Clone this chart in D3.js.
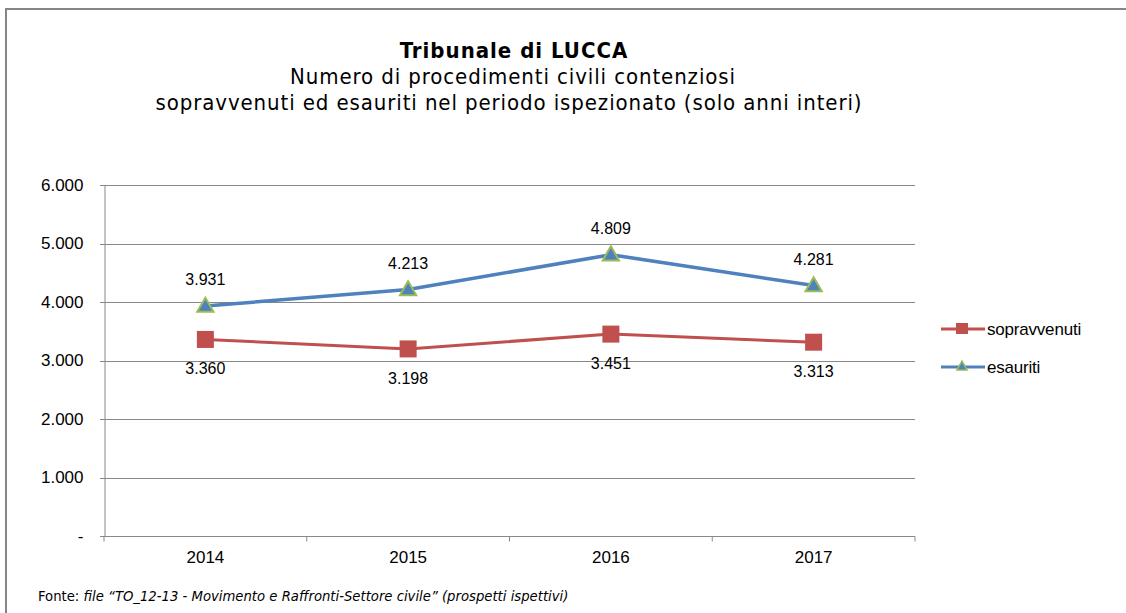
<!DOCTYPE html>
<html>
<head>
<meta charset="utf-8">
<script src="https://cdn.jsdelivr.net/npm/d3@7"></script>
<style>
  body { margin: 0; background: #fff; }
  svg { display: block; }
</style>
</head>
<body>
<svg id="chart"></svg>
<script>
const years = ["2014", "2015", "2016", "2017"];
const sopravvenuti = [3360, 3198, 3451, 3313];
const esauriti = [3931, 4213, 4809, 4281];
const yTicks = [0, 1000, 2000, 3000, 4000, 5000, 6000];

const width = 1126, height = 613;
const margin = { top: 185, right: 211, bottom: 77, left: 104 };

const svg = d3.select("#chart").attr("width", width).attr("height", height);

// cornice
svg.append("rect")
  .attr("x", 6).attr("y", 9)
  .attr("width", width + 10).attr("height", height + 10)
  .attr("fill", "none").attr("stroke", "#868686").attr("stroke-width", 2);

// titoli
const titleFont = "DejaVu Sans Condensed, DejaVu Sans, sans-serif";
svg.append("text")
  .attr("x", 514).attr("y", 58)
  .attr("text-anchor", "middle").attr("font-family", titleFont)
  .attr("font-weight", "bold").attr("font-size", 22).attr("letter-spacing", 1)
  .text("Tribunale di LUCCA");
svg.append("text")
  .attr("x", 513).attr("y", 84)
  .attr("text-anchor", "middle").attr("font-family", titleFont)
  .attr("font-size", 22).attr("letter-spacing", 0.9)
  .text("Numero di procedimenti civili contenziosi");
svg.append("text")
  .attr("x", 509).attr("y", 110)
  .attr("text-anchor", "middle").attr("font-family", titleFont)
  .attr("font-size", 22).attr("letter-spacing", 0.9)
  .text("sopravvenuti ed esauriti nel periodo ispezionato (solo anni interi)");

const x = d3.scaleBand()
  .domain(years)
  .range([margin.left, width - margin.right]);

const y = d3.scaleLinear()
  .domain([0, 6000])
  .range([height - margin.bottom, margin.top]);

const fmt = v => v === 0 ? "-" : d3.format(",")(v).replace(/,/g, ".");
const sans = "Liberation Sans, Arial, sans-serif";

// griglia
svg.append("g")
  .selectAll("line")
  .data(yTicks)
  .join("line")
  .attr("x1", margin.left - 4)
  .attr("x2", width - margin.right)
  .attr("y1", d => Math.round(y(d)) + 0.5)
  .attr("y2", d => Math.round(y(d)) + 0.5)
  .attr("stroke", "#888");

// asse y
svg.append("g")
  .attr("transform", `translate(${margin.left + 0.5},0)`)
  .call(d3.axisLeft(y).tickValues(yTicks).tickSize(0).tickPadding(21).tickFormat(fmt))
  .call(g => g.select(".domain").attr("stroke", "#888"))
  .call(g => g.selectAll(".tick text")
    .attr("font-family", sans)
    .attr("font-size", 17).attr("fill", "#000"));

// asse x
const xAxisY = Math.round(y(0)) + 0.5;
svg.append("g")
  .attr("transform", `translate(0,${xAxisY})`)
  .call(d3.axisBottom(x).tickSize(0).tickPadding(14))
  .call(g => g.select(".domain").remove())
  .call(g => g.selectAll(".tick text")
    .attr("font-family", sans)
    .attr("font-size", 17).attr("fill", "#000"));

svg.append("g")
  .selectAll("line")
  .data(years.concat(["end"]))
  .join("line")
  .attr("x1", d => d === "end" ? x.range()[1] : x(d))
  .attr("x2", d => d === "end" ? x.range()[1] : x(d))
  .attr("y1", xAxisY)
  .attr("y2", xAxisY + 5)
  .attr("stroke", "#888");

const cx = d => x(d) + x.bandwidth() / 2;

const line = d3.line()
  .x((d, i) => cx(years[i]))
  .y(d => y(d));

const red = "#C0504D", blue = "#4F81BD", green = "#9BBB59";

svg.append("path").datum(sopravvenuti)
  .attr("d", line).attr("fill", "none")
  .attr("stroke", red).attr("stroke-width", 3).attr("stroke-linejoin", "round");

svg.append("path").datum(esauriti)
  .attr("d", line).attr("fill", "none")
  .attr("stroke", blue).attr("stroke-width", 3.5).attr("stroke-linejoin", "round");

const sq = 17;
svg.append("g").selectAll("rect")
  .data(sopravvenuti)
  .join("rect")
  .attr("x", (d, i) => cx(years[i]) - sq / 2)
  .attr("y", d => y(d) - sq / 2)
  .attr("width", sq).attr("height", sq)
  .attr("fill", red);

const tri = d3.symbol().type(d3.symbolTriangle).size(115);
svg.append("g").selectAll("path")
  .data(esauriti)
  .join("path")
  .attr("d", tri)
  .attr("transform", (d, i) => `translate(${cx(years[i])},${y(d) + 1})`)
  .attr("fill", blue).attr("stroke", green).attr("stroke-width", 2);

// etichette
svg.append("g")
  .attr("font-family", sans)
  .attr("font-size", 16).attr("fill", "#000").attr("text-anchor", "middle")
  .selectAll("text")
  .data(esauriti)
  .join("text")
  .attr("x", (d, i) => cx(years[i]))
  .attr("y", d => y(d) - 21)
  .text(fmt);

svg.append("g")
  .attr("font-family", sans)
  .attr("font-size", 16).attr("fill", "#000").attr("text-anchor", "middle")
  .selectAll("text")
  .data(sopravvenuti)
  .join("text")
  .attr("x", (d, i) => cx(years[i]))
  .attr("y", d => y(d) + 35)
  .text(fmt);

// legenda
const legend = [
  { name: "sopravvenuti", color: red, marker: "square", y: 329 },
  { name: "esauriti", color: blue, marker: "triangle", y: 367 }
];
const lg = svg.append("g").selectAll("g").data(legend).join("g")
  .attr("transform", d => `translate(941,${d.y})`);
lg.append("line").attr("x1", 0).attr("x2", 44)
  .attr("stroke", d => d.color).attr("stroke-width", 3);
lg.filter(d => d.marker === "square").append("rect")
  .attr("x", 15).attr("y", -6).attr("width", 12).attr("height", 11)
  .attr("fill", red);
lg.filter(d => d.marker === "triangle").append("path")
  .attr("d", d3.symbol().type(d3.symbolTriangle).size(45))
  .attr("transform", "translate(21,0)")
  .attr("fill", blue).attr("stroke", green).attr("stroke-width", 1.5);
lg.append("text").attr("x", 46).attr("dy", "0.35em")
  .attr("font-family", sans)
  .attr("font-size", 17).attr("letter-spacing", -0.2).attr("fill", "#000")
  .text(d => d.name);

// fonte
const src = svg.append("text")
  .attr("x", 38).attr("y", 601)
  .attr("font-family", "DejaVu Sans Condensed, DejaVu Sans, sans-serif")
  .attr("font-size", 14.7).attr("fill", "#000");
src.append("tspan").text("Fonte: ");
src.append("tspan").attr("font-style", "italic")
  .text("file \u201cTO_12-13 - Movimento e Raffronti-Settore civile\u201d (prospetti ispettivi)");
</script>
</body>
</html>
